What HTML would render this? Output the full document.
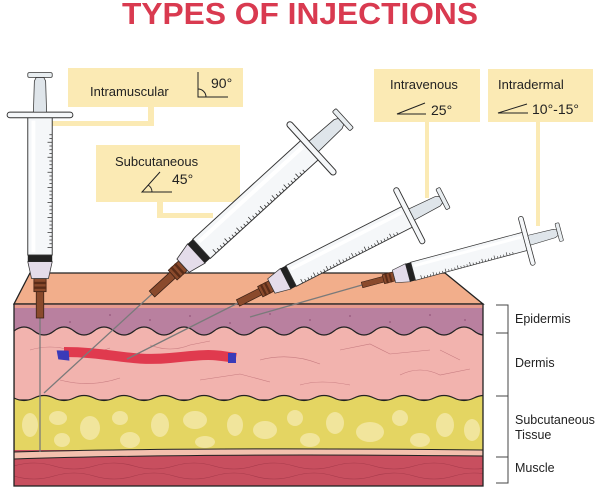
<!DOCTYPE html>
<html><head><meta charset="utf-8"><style>
html,body{margin:0;padding:0;background:#fff;}
svg{display:block;font-family:"Liberation Sans",sans-serif;}
</style></head><body>
<svg width="602" height="488" viewBox="0 0 602 488" xmlns="http://www.w3.org/2000/svg">
<defs>
<clipPath id="front"><rect x="14" y="304" width="469" height="182"/></clipPath>
<g id="body">
  <rect x="0" y="-4" width="30" height="8" fill="#8a4a2c" stroke="#3a2015" stroke-width="0.8"/>
  <rect x="28" y="-6.5" width="14" height="13" fill="#8a4a2c" stroke="#3a2015" stroke-width="0.8"/>
  <rect x="31" y="-7" width="2.5" height="14" fill="#5a2c18"/>
  <rect x="36" y="-7" width="2.5" height="14" fill="#5a2c18"/>
  <path d="M42,-9 L60,-13 L60,13 L42,9 Z" fill="#e4dcea" stroke="#333" stroke-width="0.8"/>
  <rect x="60" y="-13" width="7" height="26" fill="#222"/>
  <rect x="67" y="-13" width="148" height="26" fill="#f5f7f9" stroke="#333" stroke-width="1"/>
  <rect x="70" y="-9" width="140" height="4" fill="#fff"/>
  <path d="M75,13 v-5 M79,13 v-3 M83,13 v-3 M87,13 v-3 M91,13 v-5 M95,13 v-3 M99,13 v-3 M103,13 v-3 M107,13 v-5 M111,13 v-3 M115,13 v-3 M119,13 v-3 M123,13 v-5 M127,13 v-3 M131,13 v-3 M135,13 v-3 M139,13 v-5 M143,13 v-3 M147,13 v-3 M151,13 v-3 M155,13 v-5 M159,13 v-3 M163,13 v-3 M167,13 v-3 M171,13 v-5 M175,13 v-3 M179,13 v-3 M183,13 v-3 M187,13 v-5 M191,13 v-3 M195,13 v-3" stroke="#333" stroke-width="0.8"/>
  <rect x="213" y="-35" width="6" height="70" rx="3" fill="#f5f7f9" stroke="#333" stroke-width="1"/>
  <path d="M219,-7 L252,-6 L256,-4 L256,4 L252,6 L219,7 Z" fill="#dfe5ea" stroke="#333" stroke-width="0.8"/>
  <rect x="256" y="-13" width="5" height="26" rx="1.5" fill="#e8edf0" stroke="#333" stroke-width="0.8"/>
</g>
</defs>

<text x="300" y="24" text-anchor="middle" font-size="31" font-weight="bold" fill="#d93a50" textLength="356" lengthAdjust="spacingAndGlyphs">TYPES OF INJECTIONS</text>

<g fill="#fbeab4">
  <rect x="68" y="68" width="175" height="39"/>
  <path d="M148,107 h6 v19 h-102 v-5 h96 z"/>
  <rect x="96" y="145" width="144" height="57"/>
  <path d="M157,202 h6 v11 h50 v5 h-56 z"/>
  <rect x="374" y="69" width="106" height="53"/>
  <rect x="425" y="122" width="4" height="76"/>
  <rect x="488" y="69" width="105" height="53"/>
  <rect x="536" y="122" width="4" height="104"/>
</g>
<g font-size="13" fill="#222">
  <text x="90" y="96">Intramuscular</text>
  <text x="211" y="88" font-size="14">90°</text>
  <text x="115" y="166">Subcutaneous</text>
  <text x="172" y="184" font-size="14">45°</text>
  <text x="390" y="89">Intravenous</text>
  <text x="431" y="115" font-size="14">25°</text>
  <text x="498" y="89">Intradermal</text>
  <text x="532" y="114" font-size="14">10°-15°</text>
</g>
<g stroke="#222" stroke-width="1" fill="none">
  <path d="M198,72 V97 H228"/><path d="M198,89 a8,8 0 0 1 8,8"/>
  <path d="M160,172 L142,192 H172"/><path d="M148,185 a8,8 0 0 1 4,7"/>
  <path d="M425,103 L397,114 H426"/>
  <path d="M527,104 L498,113 H528"/>
</g>

<polygon points="30,273 445,273 483,304 14,304" fill="#f2ae8b" stroke="#222" stroke-width="1.3"/>
<g clip-path="url(#front)">
  <rect x="14" y="304" width="469" height="40" fill="#b9809f"/>
  <rect x="14" y="304" width="469" height="4" fill="#e69a8e"/>
  <g fill="#9d5f84">
    <circle cx="40" cy="318" r="1"/><circle cx="70" cy="322" r="1"/><circle cx="110" cy="315" r="1"/><circle cx="150" cy="320" r="1"/><circle cx="190" cy="316" r="1"/><circle cx="230" cy="323" r="1"/><circle cx="270" cy="314" r="1"/><circle cx="310" cy="320" r="1"/><circle cx="350" cy="316" r="1"/><circle cx="390" cy="322" r="1"/><circle cx="430" cy="315" r="1"/><circle cx="465" cy="320" r="1"/>
  </g>
  <path d="M14,331 q10,-8 20,0 t20,0 t20,0 t20,0 t20,0 t20,0 t20,0 t20,0 t20,0 t20,0 t20,0 t20,0 t20,0 t20,0 t20,0 t20,0 t20,0 t20,0 t20,0 t20,0 t20,0 t20,0 t20,0 t20,0 L490,331 V400 H14 Z" fill="#f2b3ae" stroke="#222" stroke-width="1.2"/>
  <g stroke="#c77c80" stroke-width="0.6" fill="none">
    <path d="M30,350 q20,-6 40,0 t40,-2"/><path d="M150,345 q20,8 40,0 l20,-4"/><path d="M260,360 q30,-8 60,4"/><path d="M340,350 l30,-6 l20,10 l40,-4"/><path d="M400,375 q20,-10 40,0 l30,-6"/><path d="M60,380 q30,8 60,-2"/><path d="M200,380 l40,-6 l30,8"/><path d="M300,385 q20,-6 50,0"/><path d="M440,350 l20,10"/>
  </g>
  <path d="M14,398 q10,5 20,0 t20,0 t20,0 t20,0 t20,0 t20,0 t20,0 t20,0 t20,0 t20,0 t20,0 t20,0 t20,0 t20,0 t20,0 t20,0 t20,0 t20,0 t20,0 t20,0 t20,0 t20,0 t20,0 t20,0 L490,398 V452 H14 Z" fill="#e4d562" stroke="#222" stroke-width="1.2"/>
  <g fill="#f1e59c">
    <ellipse cx="30" cy="425" rx="8" ry="12"/><ellipse cx="58" cy="418" rx="9" ry="7"/><ellipse cx="62" cy="440" rx="8" ry="7"/><ellipse cx="90" cy="428" rx="10" ry="12"/><ellipse cx="120" cy="418" rx="8" ry="7"/><ellipse cx="130" cy="440" rx="10" ry="8"/><ellipse cx="160" cy="425" rx="9" ry="12"/><ellipse cx="195" cy="420" rx="12" ry="9"/><ellipse cx="205" cy="442" rx="10" ry="6"/><ellipse cx="235" cy="425" rx="8" ry="11"/><ellipse cx="265" cy="430" rx="12" ry="9"/><ellipse cx="295" cy="418" rx="8" ry="8"/><ellipse cx="310" cy="440" rx="10" ry="7"/><ellipse cx="335" cy="423" rx="9" ry="11"/><ellipse cx="370" cy="432" rx="14" ry="10"/><ellipse cx="400" cy="418" rx="8" ry="8"/><ellipse cx="420" cy="440" rx="10" ry="7"/><ellipse cx="445" cy="425" rx="9" ry="12"/><ellipse cx="472" cy="430" rx="8" ry="11"/>
  </g>
  <rect x="14" y="450" width="469" height="40" fill="#c84f5f"/>
  <path d="M14,452 Q200,447 483,450 L483,456 Q200,453 14,459 Z" fill="#f3c0ae" stroke="#222" stroke-width="1"/>
  <g stroke="#a63a4b" stroke-width="0.6" fill="none">
    <path d="M14,466 q20,-6 40,0 t40,0 t40,0 t40,0 t40,0 t40,0 t40,0 t40,0 t40,0 t40,0 t40,0 t40,0"/>
    <path d="M14,476 q20,6 40,0 t40,0 t40,0 t40,0 t40,0 t40,0 t40,0 t40,0 t40,0 t40,0 t40,0 t40,0"/>
  </g>
</g>
<rect x="14" y="304" width="469" height="182" fill="none" stroke="#222" stroke-width="1.3"/>

<path d="M64,352 C110,352 130,362 170,358 S210,354 236,358" stroke="#e03a4e" stroke-width="10" fill="none"/>
<path d="M57,350 L69,351 L69,361 L58,359 Z" fill="#3a3ab8" transform="rotate(-4 63 355)"/>
<rect x="228" y="353" width="8" height="10" fill="#3a3ab8"/>

<g stroke="#7a7a7a" stroke-width="1.3" fill="none">
  <line x1="40" y1="318" x2="40" y2="452"/>
  <line x1="152" y1="294" x2="44" y2="393"/>
  <line x1="238" y1="303" x2="127" y2="359"/>
  <line x1="362" y1="285" x2="250" y2="317"/>
</g>

<use href="#body" transform="translate(40,318) rotate(-90) scale(0.94)"/>
<use href="#body" transform="translate(152,294) rotate(-42.4)"/>
<use href="#body" transform="translate(238,303) rotate(-27) scale(0.89)"/>
<use href="#body" transform="translate(362,285) rotate(-15) scale(0.79 0.72)"/>

<g stroke="#444" stroke-width="1" fill="none">
  <path d="M496,305 H508 V483 H496 M496,333 H508 M496,396 H508 M496,457 H508"/>
</g>
<g font-size="12.5" fill="#222">
  <text x="515" y="323">Epidermis</text>
  <text x="515" y="367">Dermis</text>
  <text x="515" y="424">Subcutaneous</text>
  <text x="515" y="439">Tissue</text>
  <text x="515" y="472">Muscle</text>
</g>
</svg>
</body></html>
